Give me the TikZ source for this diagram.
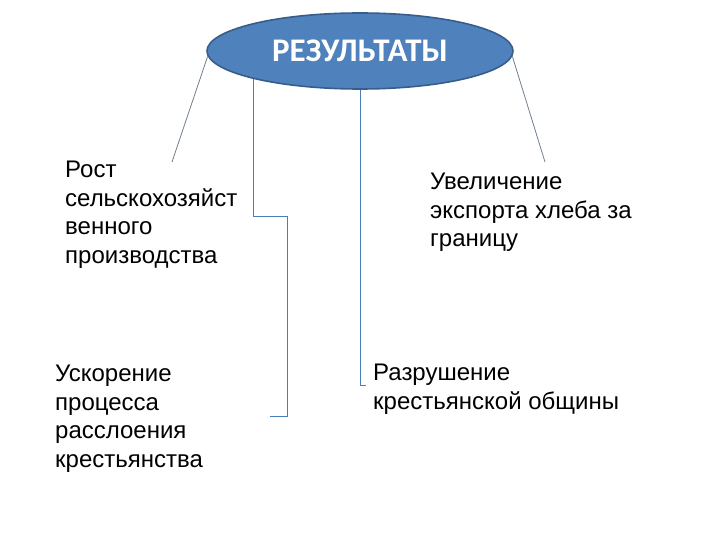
\documentclass[tikz,border=0pt]{standalone}
\usepackage{fontspec}
\setmainfont{Liberation Sans}
\newfontfamily\titlefont{Carlito}
\usetikzlibrary{shapes.geometric,calc}
\pgfdeclarelayer{bg}
\pgfsetlayers{bg,main}
\definecolor{linkblue}{HTML}{4A7EBB}
\definecolor{ellfill}{HTML}{4F81BD}
\definecolor{elldraw}{HTML}{385D8A}
\tikzset{
  body/.style={anchor=base west, inner sep=0pt, align=left,
    font=\fontsize{24}{28.5}\selectfont, text=black},
  link/.style={draw=linkblue, line width=0.9pt},
  slant/.style={draw=gray!70!linkblue, line width=0.8pt},
}
\begin{document}
\begin{tikzpicture}[x=1pt,y=-1pt]
\useasboundingbox (0,0) rectangle (720,540);
\node[ellipse, minimum width=306, minimum height=76, inner sep=0pt,
      fill=ellfill, draw=elldraw, line width=1.6pt, text=white,
      font=\titlefont\bfseries\fontsize{33}{36}\selectfont] (res) at (360,51) {РЕЗУЛЬТАТЫ};

\node[body] (t1) at (65,263) {Рост\\сельскохозяйст\\венного\\производства};
\node[body] (t2) at (55,467) {Ускорение\\процесса\\расслоения\\крестьянства};
\node[body] (t3) at (430,247) {Увеличение\\экспорта хлеба за\\границу};
\node[body] (t4) at (373,409) {Разрушение\\крестьянской общины};

\coordinate (l1) at (172,162);
\coordinate (r1) at (545,162);
\coordinate (b1) at (253,216);
\coordinate (b2) at (287,216);
\coordinate (b3) at (287,416);
\coordinate (b4) at (270,416);
\coordinate (m1) at (360,385);
\coordinate (m2) at (366,385);

\begin{pgfonlayer}{bg}
\draw[slant] (res.182) -- (l1);
\draw[slant] (res.358) -- (r1);
\draw[link] ($(res.center)+(-107,0)$) -- (b1) -- (b2) -- (b3) -- (b4);
\draw[link] (res.center) -- (m1) -- (m2);
\end{pgfonlayer}
\end{tikzpicture}
\end{document}
